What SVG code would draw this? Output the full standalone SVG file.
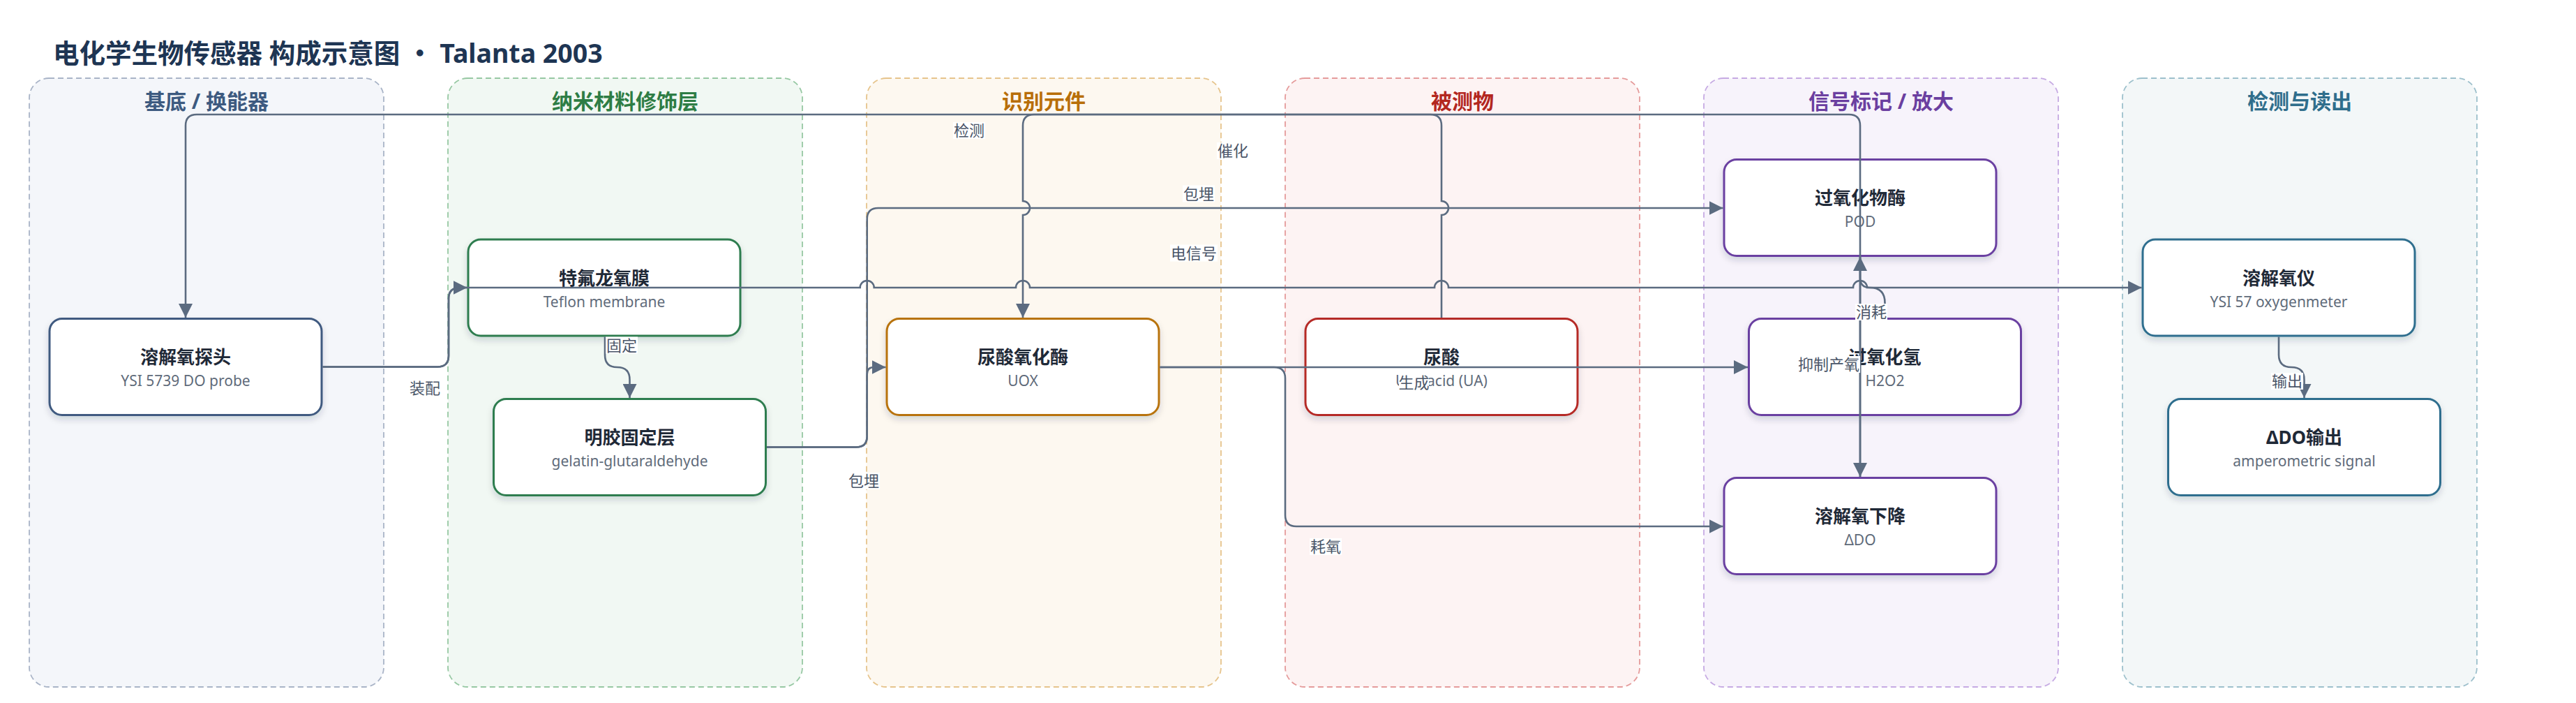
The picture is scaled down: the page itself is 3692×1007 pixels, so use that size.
<svg xmlns="http://www.w3.org/2000/svg" width="3692" height="1007" viewBox="0 0 3692 1007">
<style>
text{font-family:"Noto Sans","Noto Sans CJK SC",sans-serif}
.title{font-size:37.5px;font-weight:700;fill:#1e3553}
.gt{font-size:30px;font-weight:700;text-anchor:middle}
.grp{stroke-width:1.8;stroke-dasharray:8 5}
.node{fill:#fff;stroke-width:3}
.nt{font-size:26px;font-weight:700;fill:#1f2937;text-anchor:middle}
.ns{font-size:21px;fill:#5f6b7a;text-anchor:middle}
.e{fill:none;stroke:#5b6b80;stroke-width:2.6}
.arr{marker-end:url(#ah)}
.lb{fill:#fff}
.lt{font-size:22px;fill:#4a5568;text-anchor:middle}
</style>
<defs>
<marker id="ah" markerUnits="userSpaceOnUse" markerWidth="20" markerHeight="20" refX="20" refY="10" orient="auto"><path d="M0,0 L20,10 L0,20 z" fill="#5b6b80"/></marker>
<filter id="sh" x="-10%" y="-10%" width="120%" height="130%"><feDropShadow dx="0" dy="5" stdDeviation="5" flood-color="#1f2937" flood-opacity="0.16"/></filter>
</defs>
<rect width="3692" height="1007" fill="#ffffff"/>
<text class="title" x="76" y="90">电化学生物传感器 构成示意图 <tspan font-family="'Noto Sans CJK SC',sans-serif">·</tspan> Talanta 2003</text>

<g id="groups">
<g id="grp-substrate"><rect class="grp" x="42" y="112" width="508" height="872" rx="28" fill="#f4f6fa" stroke="#a9b4c7"/><text class="gt" x="296" y="156" fill="#3d5a80">基底 / 换能器</text></g>
<g id="grp-nano"><rect class="grp" x="642" y="112" width="508" height="872" rx="28" fill="#f1f8f3" stroke="#97c8a3"/><text class="gt" x="896" y="156" fill="#2e7d45">纳米材料修饰层</text></g>
<g id="grp-recog"><rect class="grp" x="1242" y="112" width="508" height="872" rx="28" fill="#fdf8f0" stroke="#e6c48c"/><text class="gt" x="1496" y="156" fill="#b86e08">识别元件</text></g>
<g id="grp-analyte"><rect class="grp" x="1842" y="112" width="508" height="872" rx="28" fill="#fdf3f3" stroke="#e59b9b"/><text class="gt" x="2096" y="156" fill="#b3271f">被测物</text></g>
<g id="grp-signal"><rect class="grp" x="2442" y="112" width="508" height="872" rx="28" fill="#f7f3fb" stroke="#c6aae3"/><text class="gt" x="2696" y="156" fill="#6b3fa0">信号标记 / 放大</text></g>
<g id="grp-detect"><rect class="grp" x="3042" y="112" width="508" height="872" rx="28" fill="#f3f7f8" stroke="#9dc0cc"/><text class="gt" x="3296" y="156" fill="#2f6e8c">检测与读出</text></g>
</g>

<g id="nodes">
<g id="n-probe"><rect class="node" filter="url(#sh)" x="71" y="456.5" width="390" height="138" rx="18" stroke="#3f5a80"/><text class="nt" x="266" y="521">溶解氧探头</text><text class="ns" x="266" y="553">YSI 5739 DO probe</text></g>
<g id="n-teflon"><rect class="node" filter="url(#sh)" x="671" y="343" width="390" height="138" rx="18" stroke="#2e7d4f"/><text class="nt" x="866" y="407.5">特氟龙氧膜</text><text class="ns" x="866" y="439.5">Teflon membrane</text></g>
<g id="n-gelatin"><rect class="node" filter="url(#sh)" x="707.5" y="571.5" width="390" height="138" rx="18" stroke="#2e7d4f"/><text class="nt" x="902.5" y="636">明胶固定层</text><text class="ns" x="902.5" y="668">gelatin-glutaraldehyde</text></g>
<g id="n-uox"><rect class="node" filter="url(#sh)" x="1271" y="456.5" width="390" height="138" rx="18" stroke="#b8730b"/><text class="nt" x="1466" y="521">尿酸氧化酶</text><text class="ns" x="1466" y="553">UOX</text></g>
<g id="n-ua"><rect class="node" filter="url(#sh)" x="1871" y="456.5" width="390" height="138" rx="18" stroke="#b52b27"/><text class="nt" x="2066" y="521">尿酸</text><text class="ns" x="2066" y="553">Uric acid (UA)</text></g>
<g id="n-pod"><rect class="node" filter="url(#sh)" x="2471" y="228.5" width="390" height="138" rx="18" stroke="#6a3fa1"/><text class="nt" x="2666" y="293">过氧化物酶</text><text class="ns" x="2666" y="325">POD</text></g>
<g id="n-h2o2"><rect class="node" filter="url(#sh)" x="2506.5" y="456.5" width="390" height="138" rx="18" stroke="#6a3fa1"/><text class="nt" x="2701.5" y="521">过氧化氢</text><text class="ns" x="2701.5" y="553">H2O2</text></g>
<g id="n-ddo"><rect class="node" filter="url(#sh)" x="2471" y="684.5" width="390" height="138" rx="18" stroke="#6a3fa1"/><text class="nt" x="2666" y="749">溶解氧下降</text><text class="ns" x="2666" y="781">ΔDO</text></g>
<g id="n-meter"><rect class="node" filter="url(#sh)" x="3071" y="343" width="390" height="138" rx="18" stroke="#2f6e8e"/><text class="nt" x="3266" y="407.5">溶解氧仪</text><text class="ns" x="3266" y="439.5">YSI 57 oxygenmeter</text></g>
<g id="n-out"><rect class="node" filter="url(#sh)" x="3107.5" y="571.5" width="390" height="138" rx="18" stroke="#2f6e8e"/><text class="nt" x="3302.5" y="636">ΔDO输出</text><text class="ns" x="3302.5" y="668">amperometric signal</text></g>
</g>

<g id="connectors">
<path id="e-assemble" class="e arr" d="M462.5,525.5 H627 Q643,525.5 643,509.5 V428 Q643,412 659,412 H669.5"/>
<path id="e-signal" class="e arr" d="M462.5,525.5 H627 Q643,525.5 643,509.5 V428 Q643,412 659,412 H1232.7 A10,10 0 0 1 1252.7,412 H1456 A10,10 0 0 1 1476,412 H2056 A10,10 0 0 1 2076,412 H2656 A10,10 0 0 1 2676,412 H3069.5"/>
<path id="e-fix" class="e arr" d="M867,482.5 V508.5 Q867,526 884.5,526 Q902.5,526 902.5,544 V570"/>
<path id="e-embed-uox" class="e arr" d="M1099,640.5 H1227 Q1242.7,640.5 1242.7,625 V536 Q1242.7,526 1252.7,526 H1269.5"/>
<path id="e-embed-pod" class="e arr" d="M1099,640.5 H1227 Q1242.7,640.5 1242.7,625 V314 Q1242.7,298 1258.7,298 H2469.5"/>
<path id="e-catalyze" class="e arr" d="M2066,455 V308 A10,10 0 0 0 2066,288 V180 Q2066,164 2050,164 H1482 Q1466,164 1466,180 V288 A10,10 0 0 1 1466,308 V455"/>
<path id="e-detect" class="e arr" d="M2666,683 V180 Q2666,164 2650,164 H282 Q266,164 266,180 V455"/>
<path id="e-inhibit" class="e arr" d="M2666,368 V683"/>
<path id="e-consume" class="e arr" d="M2701.5,455 V434 Q2701.5,412 2680,412 Q2666,412 2666,398 V368"/>
<path id="e-produce" class="e arr" d="M1662.5,526 H2505"/>
<path id="e-o2use" class="e arr" d="M1662.5,526 H1826 Q1842,526 1842,542 V738 Q1842,754 1858,754 H2469.5"/>
<path id="e-output" class="e arr" d="M3266,482.5 V508 Q3266,526 3284,526 Q3302.5,526 3302.5,544 V570"/>
</g>

<g id="labels">
<rect class="lb" x="586" y="544" width="46" height="24"/><text class="lt" x="609" y="564">装配</text>
<rect class="lb" x="868" y="482.5" width="46" height="24"/><text class="lt" x="891" y="502.5">固定</text>
<rect class="lb" x="1215" y="677" width="46" height="24"/><text class="lt" x="1238" y="697">包埋</text>
<rect class="lb" x="1695" y="265.5" width="46" height="24"/><text class="lt" x="1718" y="285.5">包埋</text>
<rect class="lb" x="1366" y="175" width="46" height="24"/><text class="lt" x="1389" y="195">检测</text>
<rect class="lb" x="1744" y="204" width="46" height="24"/><text class="lt" x="1767" y="224">催化</text>
<rect class="lb" x="1677" y="350.5" width="68" height="24"/><text class="lt" x="1711" y="370.5">电信号</text>
<rect class="lb" x="2005" y="536" width="43" height="24"/><text class="lt" x="2026.5" y="556">生成</text>
<rect class="lb" x="1877" y="771" width="46" height="24"/><text class="lt" x="1900" y="791">耗氧</text>
<rect class="lb" x="2659" y="435" width="46" height="24"/><text class="lt" x="2682" y="455">消耗</text>
<rect class="lb" x="2576" y="510" width="90" height="24"/><text class="lt" x="2621" y="530">抑制产氧</text>
<rect class="lb" x="3255" y="534" width="46" height="24"/><text class="lt" x="3278" y="554">输出</text>
</g>
</svg>
